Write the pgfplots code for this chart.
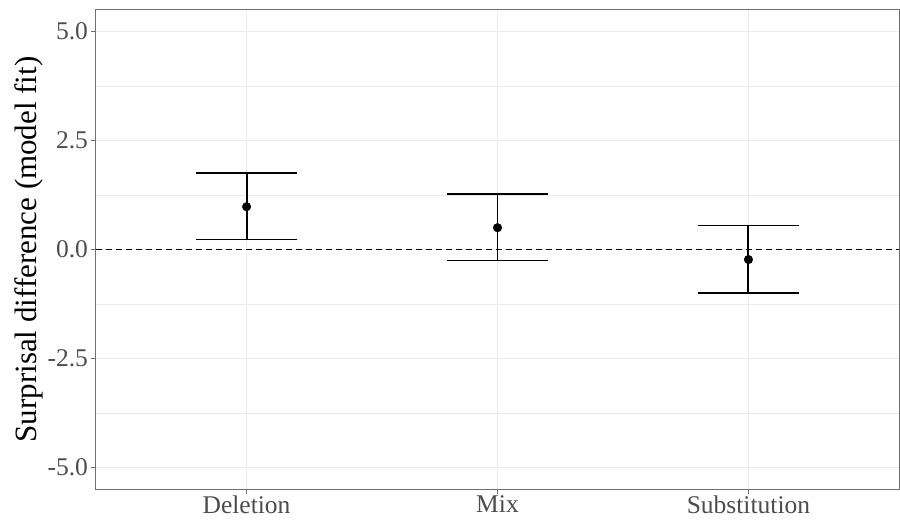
\documentclass[border=0pt]{standalone}
\usepackage{fontspec}
\setmainfont{Liberation Serif}
\usepackage{pgfplots}
\usepackage{pgfplotstable}
\pgfplotsset{compat=1.18}

\definecolor{gridmajor}{HTML}{EBEBEB}
\definecolor{panelborder}{HTML}{707070}
\definecolor{ticktext}{HTML}{4D4D4D}

% estimate with lower and upper interval bound, per condition
\pgfplotstableread{
idx est lo hi
0 0.98 0.23 1.75
1 0.50 -0.25 1.28
2 -0.23 -0.99 0.55
}\fits

\begin{document}
\begin{tikzpicture}
\begin{axis}[
  at={(0,0)}, anchor=south west,
  scale only axis, width=803pt, height=480pt,
  xmin=-0.6, xmax=2.6, ymin=-5.5, ymax=5.5,
  xtick={0,1,2}, xticklabels={Deletion,Mix,Substitution},
  ytick={-5,-2.5,0,2.5,5}, yticklabels={-5.0,-2.5,0.0,2.5,5.0},
  minor ytick={-3.75,-1.25,1.25,3.75},
  grid=both,
  major grid style={draw=gridmajor, line width=1.07pt},
  minor grid style={draw=gridmajor, line width=0.53pt},
  axis line style={draw=panelborder, line width=1pt},
  tick style={draw=panelborder, line width=1pt},
  major tick length=4.5pt, minor tick length=0pt,
  tick align=outside, tick pos=left,
  ticklabel style={font=\fontsize{25.5}{25.5}\selectfont, text=ticktext},
  xticklabel style={yshift=2pt},
  /pgf/number format/assume math mode=true,
  ylabel={Surprisal difference (model fit)},
  ylabel style={font=\fontsize{31}{31}\selectfont, at={(axis description cs:-0.0834,0.5)}, anchor=center},
  clip=false,
]
  % zero reference line
  \addplot[black, line width=1.1pt, dash pattern=on 6pt off 4pt] coordinates {(-0.6,0) (2.6,0)};
  % vertical interval lines
  \addplot[black, line width=1.9pt, only marks, mark=none,
    error bars/.cd, y dir=both, y explicit, error mark=none,
    error bar style={black, line width=1.9pt}]
    table[x=idx, y=est, y error plus expr=\thisrow{hi}-\thisrow{est}, y error minus expr=\thisrow{est}-\thisrow{lo}] {\fits};
  % caps
  \addplot[only marks, mark=-, mark size=50.7pt, mark options={black, line width=1.8pt}]
    table[x=idx, y=hi] {\fits};
  \addplot[only marks, mark=-, mark size=50.7pt, mark options={black, line width=1.8pt}]
    table[x=idx, y=lo] {\fits};
  % point estimates
  \addplot[only marks, mark=*, mark size=4.3pt, mark options={black, fill=black}]
    table[x=idx, y=est] {\fits};
\end{axis}
\pgfresetboundingbox
\useasboundingbox (-96pt,-31pt) rectangle (804pt,489.5pt);
\end{tikzpicture}
\end{document}
